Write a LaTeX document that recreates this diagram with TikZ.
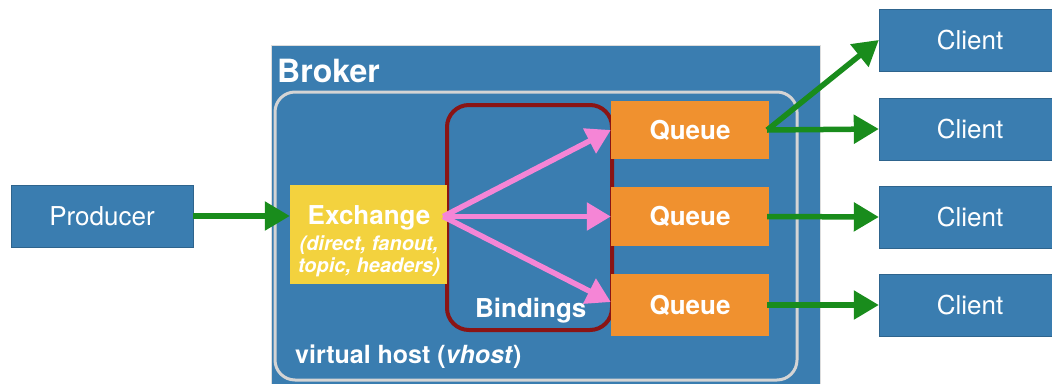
\documentclass[tikz,border=0pt]{standalone}
\usepackage{fontspec}
\setmainfont{TeX Gyre Heros}
\usetikzlibrary{arrows.meta,calc}
\definecolor{boxblue}{HTML}{3A7DB0}
\definecolor{qorange}{HTML}{F0912F}
\definecolor{exyellow}{HTML}{F3D23E}
\definecolor{bpink}{HTML}{F585D6}
\definecolor{agreen}{HTML}{198C1C}
\definecolor{bred}{HTML}{8A1414}
\definecolor{vgray}{HTML}{D4D4D4}
\tikzset{
  bluebox/.style={fill=boxblue, draw=boxblue!80!black, line width=0.4pt, text=white, minimum height=62pt, inner sep=0pt, font=\fontsize{26}{30}\selectfont},
  queuebox/.style={fill=qorange, text=white, minimum width=158pt, inner sep=0pt, font=\fontsize{26}{30}\selectfont\bfseries},
  greenarrow/.style={draw=agreen, line width=5.5pt, -{Triangle[length=25pt,width=28pt]}},
  pinkarrow/.style={draw=bpink, line width=5.5pt, -{Triangle[length=24pt,width=27pt]}},
  whitelabel/.style={text=white, inner sep=0pt}
}
\begin{document}
\begin{tikzpicture}[x=1pt,y=-1pt]
\useasboundingbox (0,0) rectangle (1052,383);
% broker
\node[fill=boxblue, draw=vgray!80, line width=0.6pt, minimum width=549pt, minimum height=340pt, inner sep=0pt] (broker) at (545.5,215) {};
\node[whitelabel, anchor=base west, font=\fontsize{32}{36}\selectfont\bfseries] (brokerlabel) at (277,82) {Broker};
% vhost
\node[draw=vgray, line width=3pt, rounded corners=20pt, minimum width=522pt, minimum height=288pt, inner sep=0pt] (vhost) at (536,236) {};
\node[whitelabel, anchor=base west, font=\fontsize{25}{28}\selectfont\bfseries] (vhostlabel) at (295,363) {virtual host (\textit{vhost})};
% bindings
\node[draw=bred, line width=4pt, rounded corners=22pt, minimum width=165pt, minimum height=225pt, inner sep=0pt] (bindings) at (529.5,217.5) {};
\node[whitelabel, anchor=base west, font=\fontsize{26}{30}\selectfont\bfseries] (bindlabel) at (475,317) {Bindings};
% exchange
\node[fill=exyellow, minimum width=157pt, minimum height=99pt, inner sep=0pt] (exchange) at (368.5,234.5) {};
\node[whitelabel, anchor=base, font=\fontsize{26}{30}\selectfont\bfseries] (exlabel) at (369,224) {Exchange};
\node[whitelabel, anchor=base, font=\fontsize{20}{24}\selectfont\bfseries\itshape] (extype) at (369,250) {(direct, fanout,};
\node[whitelabel, anchor=base, font=\fontsize{20}{24}\selectfont\bfseries\itshape] (extype2) at (369,272) {topic, headers)};
% queues
\node[queuebox, minimum height=58pt] (q1) at (690,130) {Queue};
\node[queuebox, minimum height=59pt] (q2) at (690,216.5) {Queue};
\node[queuebox, minimum height=62pt] (q3) at (690,305) {Queue};
% producer and clients
\node[bluebox, minimum width=182pt] (producer) at (102,216) {Producer};
\node[bluebox, minimum width=182pt] (c1) at (970,40) {Client};
\node[bluebox, minimum width=182pt] (c2) at (970,129) {Client};
\node[bluebox, minimum width=182pt] (c3) at (970,217) {Client};
\node[bluebox, minimum width=182pt] (c4) at (970,305) {Client};
% arrows
\coordinate (exout) at ($(exchange.east |- q2.west)+(-4,0)$);
\draw[greenarrow] (producer.east) -- (producer.east -| exchange.west);
\draw[pinkarrow] (exout) -- (q1.west);
\draw[pinkarrow] (exout) -- (q2.west);
\draw[pinkarrow] (exout) -- ($(q3.west)+(0,-3)$);
\coordinate (q1out) at ($(q1.east)+(-2,0)$);
\draw[greenarrow] (q1out) -- (c1.west);
\draw[greenarrow] (q1out) -- (c2.west);
\draw[greenarrow] ($(q2.east)+(-2,0)$) -- (c3.west);
\draw[greenarrow] ($(q3.east)+(-2,0)$) -- (c4.west);
\end{tikzpicture}
\end{document}
